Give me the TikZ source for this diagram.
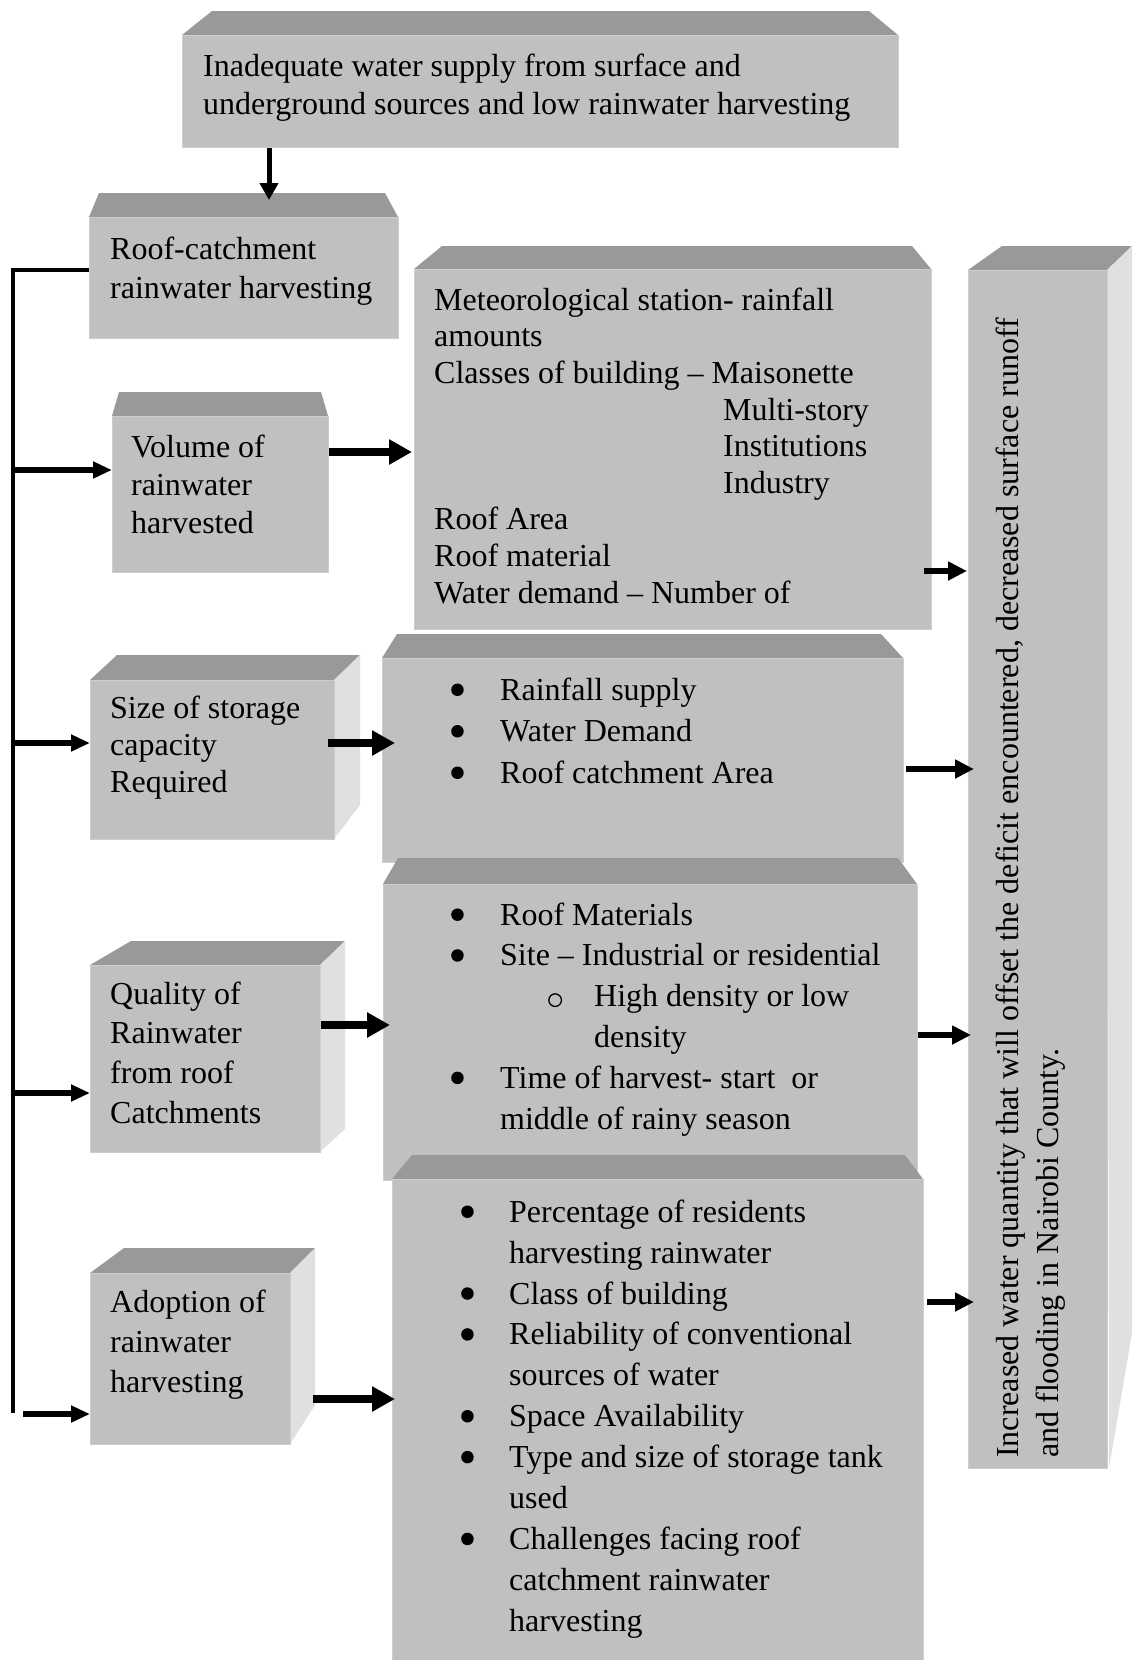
\documentclass[tikz,border=0pt]{standalone}
\usepackage{fontspec}
\setmainfont{Liberation Serif}
\usetikzlibrary{arrows.meta}
\definecolor{topc}{HTML}{999999}
\definecolor{facec}{HTML}{C0C0C0}
\definecolor{sidec}{HTML}{E0E0E0}
\definecolor{edgec}{HTML}{CDCDCD}
\newcommand\mybul[1]{\makebox[#1][l]{\tikz[baseline=0pt,x=1pt,y=1pt]\fill[black] (6.25,10.5) circle (6.25);}}
\newcommand\mysubbul{\makebox[46pt][l]{\tikz[baseline=0pt,x=1pt,y=1pt]\draw[black,line width=1.3pt] (7,6.6) circle (6.3);}}
\tikzset{
  face/.style={fill=facec, draw=edgec, line width=1.2pt, inner sep=0pt, anchor=north west},
  bevel/.style={fill=topc},
  sideface/.style={fill=sidec},
  txt/.style={inner sep=0pt, anchor=north west, align=left, font=\fontsize{32}{#1}\selectfont},
  thinarrow/.style={line width=5pt, -{Triangle[length=17pt,width=18pt]}},
  busarrow/.style={line width=5.5pt, -{Triangle[length=19pt,width=16pt]}},
  bigarrow/.style={line width=8pt, -{Triangle[length=23pt,width=24pt]}},
  outarrow/.style={line width=6pt, -{Triangle[length=19pt,width=18pt]}},
  busline/.style={line width=4pt},
}
\begin{document}
\begin{tikzpicture}[x=1pt,y=-1pt]
\useasboundingbox (0,0) rectangle (1139,1660);
\fill[white] (0,0) rectangle (1139,1660);

% top box
\fill[bevel] (182,35) -- (212,11) -- (869,11) -- (898,35) -- cycle;
\node[face, minimum width=716pt, minimum height=112pt] (top) at (182,35) {};
\node[txt=38] (toptxt) at (203,49.4) {\strut Inadequate water supply from surface and\\underground sources and low rainwater harvesting};

% roof-catchment box
\fill[bevel] (89,217) -- (99,193) -- (385,193) -- (398,217) -- cycle;
\node[face, minimum width=309pt, minimum height=121pt] (roof) at (89,217) {};
\node[txt=39] (rooftxt) at (110,231.7) {\strut Roof-catchment\\rainwater harvesting};

% volume box
\fill[bevel] (112,416) -- (119,392) -- (321,392) -- (328,416) -- cycle;
\node[face, minimum width=216pt, minimum height=156pt] (vol) at (112,416) {};
\node[txt=38] (voltxt) at (131,430.4) {\strut Volume of\\rainwater\\harvested};

% meteorological box
\fill[bevel] (414,269) -- (442,246) -- (912,246) -- (931,269) -- cycle;
\node[face, minimum width=517pt, minimum height=360pt] (met) at (414,269) {};
\node[txt=36.6] (mettxt) at (434,284.4) {\strut Meteorological station- rainfall\\amounts\\Classes of building – Maisonette\\\hspace*{289pt}Multi-story\\\hspace*{289pt}Institutions\\\hspace*{289pt}Industry\\Roof Area\\Roof material\\Water demand – Number of};

% size box
\fill[bevel] (90,680) -- (117,655) -- (360,655) -- (334,680) -- cycle;
\fill[sideface] (334,680) -- (360,655) -- (360,805) -- (334,839) -- cycle;
\node[face, minimum width=244pt, minimum height=159pt] (size) at (90,680) {};
\node[txt=37] (sizetxt) at (110,692.1) {\strut Size of storage\\capacity\\Required};

% box 1
\fill[bevel] (382,658) -- (397,634) -- (881,634) -- (903,658) -- cycle;
\node[face, minimum width=521pt, minimum height=204pt] (b1) at (382,658) {};
\node[txt=41.5] (b1txt) at (451,671) {\strut\mybul{49pt}Rainfall supply\\\mybul{49pt}Water Demand\\\mybul{49pt}Roof catchment Area};

% box 2
\fill[bevel] (383,884) -- (398,858) -- (898,858) -- (917,884) -- cycle;
\node[face, minimum width=534pt, minimum height=296pt] (b2) at (383,884) {};
\node[txt=40.8] (b2txt) at (451,896.4) {\strut\mybul{49pt}Roof Materials\\\mybul{49pt}Site – Industrial or residential\\\hspace*{97pt}\mysubbul High density or low\\\hspace*{143pt}density\\\mybul{49pt}Time of harvest- start\ \ or\\\hspace*{49pt}middle of rainy season};

% quality box
\fill[bevel] (90,965) -- (131,941) -- (345,941) -- (320,965) -- cycle;
\fill[sideface] (320,965) -- (345,941) -- (345,1129) -- (320,1152) -- cycle;
\node[face, minimum width=230pt, minimum height=187pt] (qual) at (90,965) {};
\node[txt=39.6] (qualtxt) at (110,976.3) {\strut Quality of\\Rainwater\\from roof\\Catchments};

% box 3
\fill[bevel] (392,1179) -- (412,1155) -- (905,1155) -- (923,1179) -- cycle;
\node[face, minimum width=531pt, minimum height=490pt] (b3) at (392,1179) {};
\node[txt=40.9] (b3txt) at (461,1193.4) {\strut\mybul{48pt}Percentage of residents\\\hspace*{48pt}harvesting rainwater\\\mybul{48pt}Class of building\\\mybul{48pt}Reliability of conventional\\\hspace*{48pt}sources of water\\\mybul{48pt}Space Availability\\\mybul{48pt}Type and size of storage tank\\\hspace*{48pt}used\\\mybul{48pt}Challenges facing roof\\\hspace*{48pt}catchment rainwater\\\hspace*{48pt}harvesting};

% adoption box
\fill[bevel] (90,1273) -- (124,1248) -- (315,1248) -- (290,1273) -- cycle;
\fill[sideface] (290,1273) -- (315,1248) -- (315,1405) -- (290,1444) -- cycle;
\node[face, minimum width=200pt, minimum height=171pt] (adopt) at (90,1273) {};
\node[txt=40] (adopttxt) at (110,1284) {\strut Adoption of\\rainwater\\harvesting};

% result box
\fill[bevel] (968,270) -- (1002,246) -- (1132,246) -- (1107,270) -- cycle;
\fill[sideface] (1107,270) -- (1132,246) -- (1132,1333) -- (1109,1468) -- cycle;
\node[face, minimum width=139pt, minimum height=1198pt] (res) at (968,270) {};
\node[txt=40, rotate=90] (restxt) at (990,1458) {\strut Increased water quantity that will offset the deficit encountered, decreased surface runoff\\and flooding in Nairobi County.};

% connectors
\coordinate (ta) at (269,200);
\draw[thinarrow] (top.south -| ta) -- (ta);

\coordinate (busTop) at (13,270);
\coordinate (busBot) at (13,1413);
\draw[busline] (roof.west |- busTop) -- (busTop) -- (busBot);

\coordinate (bus1) at (13,470);
\coordinate (bus2) at (13,743);
\coordinate (bus3) at (13,1093);
\coordinate (bus4) at (23,1414);
\draw[busarrow] (bus1) -- (vol.west |- bus1);
\draw[busarrow] (bus2) -- (size.west |- bus2);
\draw[busarrow] (bus3) -- (qual.west |- bus3);
\draw[busarrow] (bus4) -- (adopt.west |- bus4);

\coordinate (m1) at (0,452);
\coordinate (m2) at (0,743);
\coordinate (m3) at (0,1025);
\coordinate (m4) at (0,1399);
\draw[bigarrow] (vol.east |- m1) -- ([xshift=-2pt]met.west |- m1);
\draw[bigarrow] ([xshift=-7pt]size.east |- m2) -- ([xshift=13pt]b1.west |- m2);
\draw[bigarrow] (qual.east |- m3) -- ([xshift=7pt]b2.west |- m3);
\draw[bigarrow] ([xshift=22pt]adopt.east |- m4) -- ([xshift=3pt]b3.west |- m4);

\coordinate (r1) at (0,571);
\coordinate (r2) at (0,769);
\coordinate (r3) at (0,1035);
\coordinate (r4) at (0,1302);
\draw[outarrow] ([xshift=-8pt]met.east |- r1) -- ([xshift=-1pt]res.west |- r1);
\draw[outarrow] ([xshift=2pt]b1.east |- r2) -- ([xshift=6pt]res.west |- r2);
\draw[outarrow] (b2.east |- r3) -- ([xshift=3pt]res.west |- r3);
\draw[outarrow] ([xshift=3pt]b3.east |- r4) -- ([xshift=6pt]res.west |- r4);
\end{tikzpicture}
\end{document}
